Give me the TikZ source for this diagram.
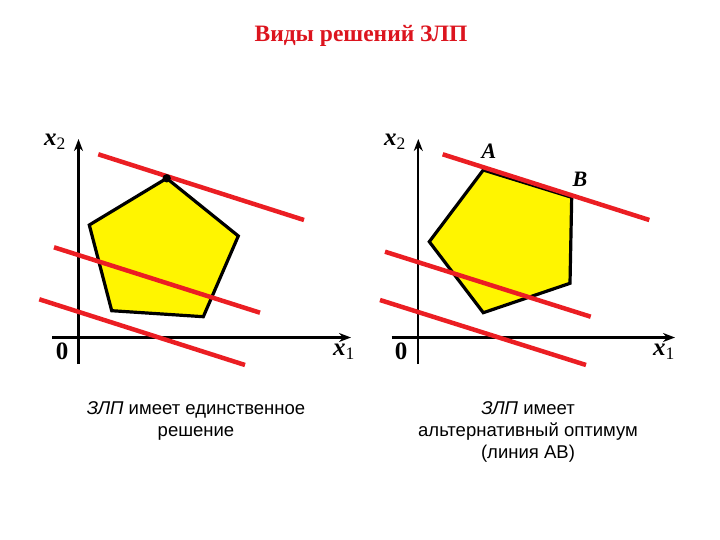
\documentclass[tikz,border=0pt]{standalone}
\usepackage{fontspec}
\setmainfont{Liberation Serif}
\setsansfont{Liberation Sans}
\usetikzlibrary{arrows.meta}
\definecolor{titlered}{RGB}{220,20,30}
\definecolor{linered}{RGB}{235,30,35}
\definecolor{fillyel}{RGB}{255,245,0}
\tikzset{
  axis/.style={line width=2.2pt,-{Stealth[length=12pt,width=9pt]}},
  redline/.style={linered,line width=4.5pt},
  poly/.style={draw=black,fill=fillyel,line width=3.2pt,line join=miter},
  axlabel/.style={font=\fontsize{25}{28}\selectfont\bfseries},
  ptlabel/.style={font=\fontsize{22}{26}\selectfont\bfseries\itshape},
  caption/.style={font=\sffamily\fontsize{18.5}{22}\selectfont,align=center},
}
\begin{document}
\begin{tikzpicture}[x=1pt,y=-1pt]
\useasboundingbox (0,0) rectangle (720,540);
\node[font=\fontsize{23.5}{26}\selectfont\bfseries,text=titlered] (title) at (361,36) {Виды решений ЗЛП};

% ---------- left panel ----------
\coordinate (ly0) at (78.5,364);
\coordinate (ly1) at (78.5,139);
\coordinate (lx0) at (52,337.5);
\coordinate (lx1) at (351,337.5);
\draw[axis] (ly0) -- (ly1);
\draw[axis] (lx0) -- (lx1);
\node[axlabel] (lx2lab) at (55,142) {\textit{x}\textsubscript{\mdseries 2}};
\node[axlabel] (l0) at (62,351) {0};
\node[axlabel] (lx1lab) at (344,352) {\textit{x}\textsubscript{\mdseries 1}};

\coordinate (p1) at (166.7,178.3);
\coordinate (p2) at (238.3,236);
\coordinate (p3) at (203.3,316.7);
\coordinate (p4) at (111.7,310.7);
\coordinate (p5) at (89.3,225);
\draw[poly] (p1) -- (p2) -- (p3) -- (p4) -- (p5) -- cycle;

\coordinate (la1) at (98.3,154.3);  \coordinate (lb1) at (304,220);
\coordinate (la2) at (54,247.3);    \coordinate (lb2) at (260,312.7);
\coordinate (la3) at (39.3,299.3);  \coordinate (lb3) at (245,365);
\draw[redline] (la1) -- (lb1);
\draw[redline] (la2) -- (lb2);
\draw[redline] (la3) -- (lb3);
\fill[black] (p1) circle (4.2pt);

\node[caption] (lcap) at (196,421) {\textit{ЗЛП} имеет единственное\\решение};

% ---------- right panel ----------
\coordinate (ry0) at (418.3,364);
\coordinate (ry1) at (418.3,139);
\coordinate (rx0) at (391.7,337.5);
\coordinate (rx1) at (675,337.5);
\draw[axis] (ry0) -- (ry1);
\draw[axis] (rx0) -- (rx1);
\node[axlabel] (rx2lab) at (395,142) {\textit{x}\textsubscript{\mdseries 2}};
\node[axlabel] (r0) at (401,351) {0};
\node[axlabel] (rx1lab) at (664,352) {\textit{x}\textsubscript{\mdseries 1}};

\coordinate (A) at (483.3,170);
\coordinate (B) at (571.7,197.3);
\coordinate (q3) at (570,283.3);
\coordinate (q4) at (483.3,312.7);
\coordinate (q5) at (429.3,241.7);
\draw[poly] (A) -- (B) -- (q3) -- (q4) -- (q5) -- cycle;

\coordinate (ra1) at (442.7,154.3);  \coordinate (rb1) at (649.3,220);
\coordinate (ra2) at (385,251.7);    \coordinate (rb2) at (590.7,316.7);
\coordinate (ra3) at (380,300);      \coordinate (rb3) at (586,365);
\draw[redline] (ra1) -- (rb1);
\draw[redline] (ra2) -- (rb2);
\draw[redline] (ra3) -- (rb3);

\node[ptlabel] (Alab) at (489,151) {A};
\node[ptlabel] (Blab) at (580,179) {B};

\node[caption] (rcap) at (528,432) {\textit{ЗЛП} имеет\\альтернативный оптимум\\(линия AB)};
\end{tikzpicture}
\end{document}
